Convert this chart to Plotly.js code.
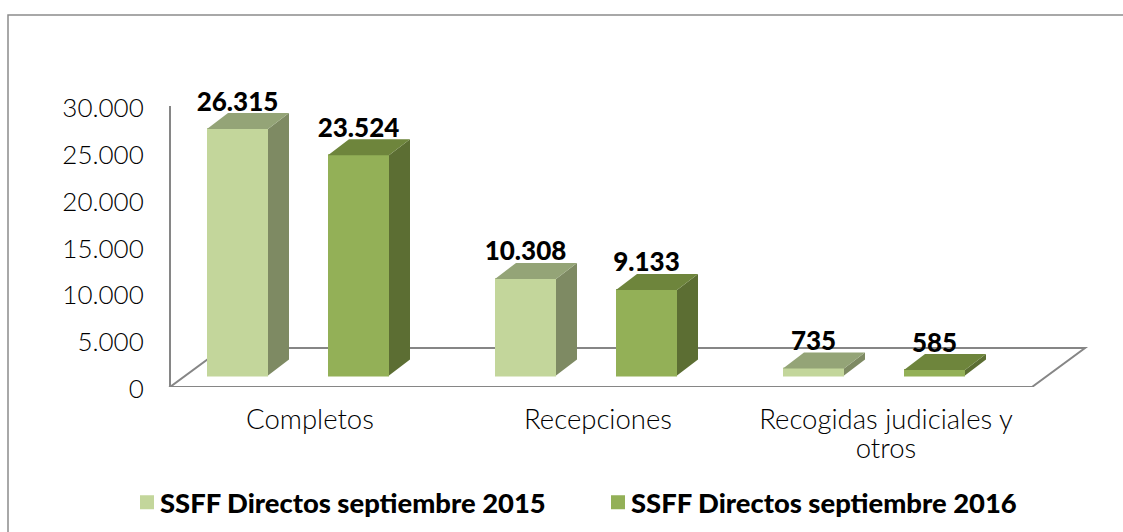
<!DOCTYPE html>
<html>
<head>
<meta charset="utf-8">
<script src="https://cdn.plot.ly/plotly-3.0.1.min.js"></script>
<style>html,body{margin:0;padding:0;background:#fff;overflow:hidden} text{font-variant-ligatures:none}</style>
</head>
<body>
<div id="chart" style="width:1123px;height:532px"></div>
<script>
// ---- data ----
const categories = ["Completos", "Recepciones", "Recogidas judiciales y<br>otros"];
const seriesNames = ["SSFF Directos septiembre 2015", "SSFF Directos septiembre 2016"];
const values2015 = [26315, 10308, 735];
const values2016 = [23524, 9133, 585];
const yTicks = [0, 5000, 10000, 15000, 20000, 25000, 30000];

// ---- styling per series ----
const frontColors = ["#C3D69B", "#93B057"];
const topColors = ["#94A477", "#6E853C"];
const sideColors = ["#7E8A63", "#5C6E33"];

// ---- layout geometry (pixels in the 1123x532 page) ----
const W = 1123, H = 532;
const catPx0 = 310, catStep = 288;          // tick label centre of first category, spacing
const zeroPx = 387, topPx = 106;            // y of value 0 and value 30000 on the axis
const basePx = 375.5;                       // y of the bars' foot on the floor
const unitsPerPx = 30000 / (zeroPx - topPx);
const floorDepth = {dx: 53, dy: 39};
const floorLeft = 170, floorRight = 1032;
const depthX = 21, depthY = 16;             // extrusion of each bar
const barPx = 61, barOffsetPx = [-103, 18]; // left edge of each bar from the tick centre
const barEdge = 2;                          // outline included in barPx

const xOf = px => (px - catPx0) / catStep;
const xSpan = px => px / catStep;
const ySpan = px => px * unitsPerPx;
const xRange = [xOf(0), xOf(W)];
const yDomain = [(H - zeroPx) / H, (H - topPx) / H];
const yRange = [0, 30000];
const y2Range = [-ySpan(zeroPx - basePx), 30000 - ySpan(zeroPx - basePx)];
const catIdx = categories.map((_, i) => i);
const series = [values2015, values2016];

const traces = [];

// side and top faces, derived from each value
series.forEach((vals, s) => {
  const sideX = [], sideY = [], topX = [], topY = [];
  vals.forEach((v, i) => {
    const l = i + xSpan(barOffsetPx[s]), r = l + xSpan(barPx);
    const dx = xSpan(depthX), dy = ySpan(depthY);
    sideX.push(r, r + dx, r + dx, r, r, null);
    sideY.push(0, dy, v + dy, v, 0, null);
    topX.push(l, r, r + dx, l + dx, l, null);
    topY.push(v, v, v + dy, v + dy, v, null);
  });
  traces.push({type: "scatter", mode: "lines", x: sideX, y: sideY, yaxis: "y2", fill: "toself",
    fillcolor: sideColors[s], line: {width: 0}, showlegend: false, hoverinfo: "skip"});
  traces.push({type: "scatter", mode: "lines", x: topX, y: topY, yaxis: "y2", fill: "toself",
    fillcolor: topColors[s], line: {width: 0}, showlegend: false, hoverinfo: "skip"});
});

// front faces
series.forEach((vals, s) => {
  traces.push({type: "bar", name: seriesNames[s], x: catIdx, y: vals, yaxis: "y2",
    width: xSpan(barPx - barEdge), offset: xSpan(barOffsetPx[s] + barEdge / 2),
    marker: {color: frontColors[s], line: {color: frontColors[s], width: barEdge}}, hoverinfo: "y"});
});

// value labels
series.forEach((vals, s) => {
  traces.push({type: "scatter", mode: "text", yaxis: "y2",
    x: catIdx.map(i => i + xSpan(barOffsetPx[s] + barPx / 2)),
    y: vals.map(v => v + ySpan(depthY - 4)),
    text: vals.map(v => v.toLocaleString("de-DE")),
    textposition: "top center",
    textfont: {family: "Lato, sans-serif", size: 26, color: "#000", weight: 900},
    cliponaxis: false, showlegend: false, hoverinfo: "skip"});
});

const floorLine = {color: "#868686", width: 2};
const shapes = [
  // chart frame
  {type: "rect", xref: "paper", yref: "paper", x0: 8 / W, x1: 1.01, y0: -0.05, y1: (H - 15) / H,
    line: {color: "#8c8c8c", width: 1.5}, fillcolor: "rgba(0,0,0,0)", layer: "below"},
  // floor
  {type: "path", xref: "x", yref: "y", layer: "below", line: floorLine,
    path: "M" + xOf(floorLeft) + ",0 L" + xOf(floorRight) + ",0 L" + xOf(floorRight + floorDepth.dx) + "," + ySpan(floorDepth.dy) +
      " L" + xOf(floorLeft + floorDepth.dx) + "," + ySpan(floorDepth.dy) + " Z"}
];

const layout = {
  width: W, height: H, margin: {l: 0, r: 0, t: 0, b: 0, pad: 0},
  paper_bgcolor: "#fff", plot_bgcolor: "rgba(0,0,0,0)",
  separators: ",.", barmode: "overlay", shapes: shapes,
  font: {family: "Lato, sans-serif", color: "#000"},
  xaxis: {range: xRange, domain: [0, 1], tickmode: "array", tickvals: catIdx, ticktext: categories,
    showgrid: false, zeroline: false, showline: false, ticks: "outside", ticklen: 8, tickcolor: "rgba(0,0,0,0)",
    tickfont: {family: "Lato, sans-serif", size: 27.5, color: "#000", weight: 300}, fixedrange: true},
  yaxis: {range: yRange, domain: yDomain, anchor: "free", position: floorLeft / W, tickmode: "array", tickvals: yTicks,
    tickformat: ",d", showgrid: false, zeroline: false, showline: true, linecolor: "#868686", linewidth: 2,
    ticks: "outside", ticklen: 20, tickcolor: "rgba(0,0,0,0)", ticklabelshift: 2,
    tickfont: {family: "Lato, sans-serif", size: 26, color: "#000", weight: 300}, fixedrange: true},
  yaxis2: {range: y2Range, domain: yDomain, overlaying: "y", anchor: "x", visible: false, fixedrange: true},
  legend: {orientation: "h", x: 120 / W, xanchor: "left", y: (H - 478) / H, yanchor: "top",
    entrywidth: 426, entrywidthmode: "pixels", bgcolor: "rgba(0,0,0,0)", traceorder: "normal",
    font: {family: "Lato, sans-serif", size: 27.4, color: "#000", weight: 900}}
};

Plotly.newPlot("chart", traces, layout, {displayModeBar: false, responsive: false}).then(() => {
  // the reference keeps its legend swatches closer to the text than Plotly's default
  document.querySelectorAll("#chart .legendsymbols").forEach(g => g.setAttribute("transform", "translate(7,0)"));
  // and sets the wrapped category label tighter than Plotly's 1.3em line height
  document.querySelectorAll("#chart .xtick tspan.line").forEach((t, i) => { if (i > 0) t.setAttribute("dy", "1.07em"); });
});
</script>
</body>
</html>
